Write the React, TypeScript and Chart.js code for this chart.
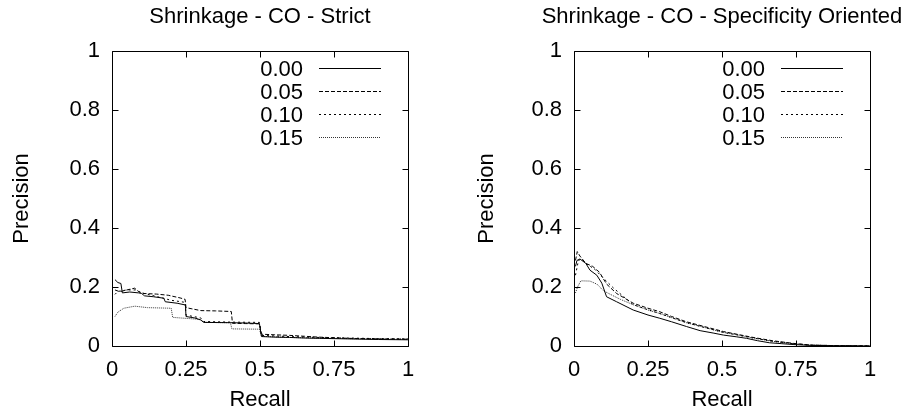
import React, { useEffect, useRef } from 'react';
import { Chart, registerables } from 'chart.js';

Chart.register(...registerables);

// ---------- shared labels ----------
const seriesLabels = ['0.00', '0.05', '0.10', '0.15'];
const xTickValues = [0, 0.25, 0.5, 0.75, 1];
const yTickValues = [0, 0.2, 0.4, 0.6, 0.8, 1];
const titleStrict = 'Shrinkage - CO - Strict';
const titleSpecificity = 'Shrinkage - CO - Specificity Oriented';
const xTitle = 'Recall';
const yTitle = 'Precision';

// ---------- Strict panel ----------
const strictRecall00 = [0.01, 0.02, 0.03, 0.035, 0.06, 0.09, 0.1, 0.11, 0.14, 0.175, 0.18, 0.22, 0.248, 0.25, 0.28, 0.3, 0.31, 0.4, 0.45, 0.498, 0.505, 0.55, 0.6, 0.65, 0.7, 0.8, 0.9, 1.0];
const strictPrec00 = [0.225, 0.215, 0.212, 0.18, 0.183, 0.18, 0.178, 0.17, 0.167, 0.162, 0.15, 0.145, 0.139, 0.1, 0.095, 0.088, 0.08, 0.079, 0.078, 0.076, 0.032, 0.03, 0.029, 0.027, 0.026, 0.024, 0.022, 0.021];

const strictRecall05 = [0.01, 0.026, 0.05, 0.077, 0.09, 0.108, 0.15, 0.19, 0.23, 0.247, 0.25, 0.27, 0.3, 0.35, 0.403, 0.407, 0.45, 0.498, 0.505, 0.55, 0.6, 0.65, 0.7, 0.75, 0.8, 0.9, 1.0];
const strictPrec05 = [0.19, 0.184, 0.19, 0.196, 0.184, 0.178, 0.176, 0.172, 0.163, 0.158, 0.13, 0.126, 0.12, 0.119, 0.117, 0.077, 0.076, 0.075, 0.04, 0.038, 0.036, 0.033, 0.03, 0.028, 0.026, 0.024, 0.023];

const strictRecall10 = [0.01, 0.02, 0.05, 0.08, 0.1, 0.15, 0.2, 0.247, 0.25, 0.3, 0.31, 0.4, 0.498, 0.505, 0.55, 0.6, 0.7, 0.8, 0.9, 1.0];
const strictPrec10 = [0.175, 0.185, 0.19, 0.19, 0.18, 0.168, 0.155, 0.148, 0.105, 0.095, 0.083, 0.081, 0.08, 0.036, 0.034, 0.032, 0.029, 0.027, 0.025, 0.024];

const strictRecall15 = [0.01, 0.02, 0.04, 0.077, 0.12, 0.2, 0.205, 0.3, 0.31, 0.4, 0.405, 0.498, 0.505, 0.55, 0.6, 0.7, 0.8, 0.9, 1.0];
const strictPrec15 = [0.1, 0.115, 0.128, 0.135, 0.13, 0.128, 0.097, 0.09, 0.08, 0.079, 0.058, 0.057, 0.033, 0.031, 0.029, 0.027, 0.025, 0.024, 0.023];

// ---------- Specificity oriented panel ----------
const specRecall00 = [0.005, 0.01, 0.02, 0.04, 0.054, 0.077, 0.094, 0.11, 0.144, 0.2, 0.25, 0.29, 0.33, 0.38, 0.426, 0.47, 0.505, 0.55, 0.583, 0.62, 0.66, 0.7, 0.74, 0.8, 0.9, 1.0];
const specPrec00 = [0.27, 0.29, 0.295, 0.28, 0.257, 0.24, 0.213, 0.167, 0.15, 0.122, 0.105, 0.094, 0.082, 0.066, 0.052, 0.044, 0.037, 0.031, 0.026, 0.018, 0.011, 0.008, 0.005, 0.002, 0.001, 0.0];

const specRecall05 = [0.005, 0.011, 0.02, 0.04, 0.063, 0.086, 0.11, 0.144, 0.2, 0.25, 0.29, 0.33, 0.38, 0.44, 0.505, 0.55, 0.6, 0.67, 0.74, 0.8, 0.9, 1.0];
const specPrec05 = [0.29, 0.32, 0.305, 0.28, 0.27, 0.25, 0.21, 0.178, 0.145, 0.128, 0.116, 0.1, 0.082, 0.066, 0.049, 0.04, 0.03, 0.018, 0.009, 0.003, 0.001, 0.0];

const specRecall10 = [0.005, 0.015, 0.025, 0.04, 0.07, 0.105, 0.135, 0.2, 0.25, 0.29, 0.33, 0.38, 0.44, 0.505, 0.55, 0.6, 0.67, 0.74, 0.8, 0.9, 1.0];
const specPrec10 = [0.24, 0.29, 0.295, 0.28, 0.26, 0.224, 0.195, 0.14, 0.123, 0.11, 0.096, 0.079, 0.063, 0.046, 0.038, 0.028, 0.016, 0.008, 0.003, 0.001, 0.0];

const specRecall15 = [0.005, 0.012, 0.023, 0.054, 0.077, 0.1, 0.123, 0.157, 0.2, 0.25, 0.29, 0.33, 0.38, 0.44, 0.505, 0.55, 0.6, 0.67, 0.74, 0.8, 0.9, 1.0];
const specPrec15 = [0.18, 0.2, 0.221, 0.22, 0.21, 0.187, 0.175, 0.158, 0.14, 0.122, 0.11, 0.096, 0.079, 0.063, 0.046, 0.038, 0.028, 0.016, 0.008, 0.003, 0.001, 0.0];

// ---------- styles ----------
const lineDashes: number[][] = [[], [4, 2], [2, 3], [1, 1]];
const lineColors = ['#000000', '#000000', '#000000', '#333333'];
const FONT = 'Liberation Sans, Arial, Helvetica, sans-serif';

const zip = (xs: number[], ys: number[]) => xs.map((x, i) => ({ x, y: ys[i] }));

const gnuplotFrame = {
  id: 'gnuplotFrame',
  afterDatasetsDraw(chart: any, _args: any, opts: any) {
    const { ctx, chartArea, scales } = chart;
    const { left, right, top, bottom } = chartArea;
    const xs = scales.x;
    const ys = scales.y;
    ctx.save();
    ctx.strokeStyle = '#000';
    ctx.lineWidth = 1;
    ctx.setLineDash([]);
    const L = Math.round(left) + 0.5;
    const R = Math.round(right) + 0.5;
    const T = Math.round(top) + 0.5;
    const B = Math.round(bottom) + 0.5;
    ctx.beginPath();
    ctx.rect(L, T, R - L, B - T);
    const tl = 6;
    xTickValues.forEach((v) => {
      const px = Math.round(xs.getPixelForValue(v)) + 0.5;
      ctx.moveTo(px, B); ctx.lineTo(px, B - tl);
      ctx.moveTo(px, T); ctx.lineTo(px, T + tl);
    });
    yTickValues.forEach((v) => {
      const py = Math.round(ys.getPixelForValue(v)) + 0.5;
      ctx.moveTo(L, py); ctx.lineTo(L + tl, py);
      ctx.moveTo(R, py); ctx.lineTo(R - tl, py);
    });
    ctx.stroke();

    ctx.font = `22px ${FONT}`;
    ctx.fillStyle = '#000';
    // title centred over the plot box
    ctx.textAlign = 'center';
    ctx.textBaseline = 'middle';
    ctx.fillText(opts.title, (left + right) / 2, 17);

    // legend (gnuplot style, top right inside)
    ctx.textAlign = 'right';
    chart.data.datasets.forEach((ds: any, i: number) => {
      const y = Math.round(top + 17 + i * 23) + 0.5;
      const lineEnd = right - 27;
      const lineStart = right - 89;
      ctx.setLineDash([]);
      ctx.fillText(ds.label, lineStart - 16, y + 1);
      ctx.beginPath();
      ctx.strokeStyle = ds.borderColor;
      ctx.setLineDash(ds.borderDash || []);
      ctx.moveTo(lineStart, y);
      ctx.lineTo(lineEnd, y);
      ctx.stroke();
    });
    ctx.restore();
  },
};

const fmt = (v: any) => String(Number(v));

function makeConfig(title: string, series: { x: number[]; y: number[] }[], yAxisWidth: number, rightPad: number, yTitlePad: number) {
  return {
    type: 'line' as const,
    data: {
      datasets: series.map((s, i) => ({
        label: seriesLabels[i],
        data: zip(s.x, s.y),
        borderColor: lineColors[i],
        borderWidth: 1,
        borderDash: lineDashes[i],
        pointRadius: 0,
        tension: 0,
        fill: false,
      })),
    },
    options: {
      responsive: false,
      animation: false as const,
      layout: { padding: { left: 0, right: rightPad, top: 51, bottom: 0 } },
      plugins: {
        legend: { display: false },
        tooltip: { enabled: false },
        title: { display: false },
        gnuplotFrame: { title },
      },
      scales: {
        x: {
          type: 'linear' as const,
          min: 0,
          max: 1,
          afterBuildTicks: (scale: any) => { scale.ticks = xTickValues.map((v) => ({ value: v })); },
          ticks: { color: '#000', font: { family: FONT, size: 22 }, padding: 11, maxRotation: 0, autoSkip: false, callback: fmt },
          grid: { display: false, drawTicks: false },
          border: { display: false },
          title: { display: true, text: xTitle, color: '#000', font: { family: FONT, size: 22 }, padding: { top: 0, bottom: 5 } },
          afterFit: (scale: any) => { scale.height = 72; },
        },
        y: {
          type: 'linear' as const,
          min: 0,
          max: 1,
          afterBuildTicks: (scale: any) => { scale.ticks = yTickValues.map((v) => ({ value: v })); },
          ticks: { color: '#000', font: { family: FONT, size: 22 }, padding: 12, autoSkip: false, callback: fmt },
          grid: { display: false, drawTicks: false },
          border: { display: false },
          title: { display: true, text: yTitle, color: '#000', font: { family: FONT, size: 22 }, padding: { top: yTitlePad, bottom: 0 } },
          afterFit: (scale: any) => { scale.width = yAxisWidth; },
        },
      },
    },
    plugins: [gnuplotFrame],
  };
}

function Panel({ title, series, yAxisWidth, rightPad, yTitlePad }: any) {
  const ref = useRef<HTMLCanvasElement | null>(null);
  useEffect(() => {
    if (!ref.current) return;
    const chart = new Chart(ref.current, makeConfig(title, series, yAxisWidth, rightPad, yTitlePad) as any);
    return () => chart.destroy();
  }, []);
  return <canvas ref={ref} width={460} height={418} style={{ display: 'block', width: 460, height: 418 }} />;
}

export default function App() {
  const strictSeries = [
    { x: strictRecall00, y: strictPrec00 },
    { x: strictRecall05, y: strictPrec05 },
    { x: strictRecall10, y: strictPrec10 },
    { x: strictRecall15, y: strictPrec15 },
  ];
  const specSeries = [
    { x: specRecall00, y: specPrec00 },
    { x: specRecall05, y: specPrec05 },
    { x: specRecall10, y: specPrec10 },
    { x: specRecall15, y: specPrec15 },
  ];
  return (
    <div style={{ position: 'absolute', left: 0, top: 0, width: 920, height: 418, display: 'flex', background: '#fff' }}>
      <Panel title={titleStrict} series={strictSeries} yAxisWidth={112} rightPad={52} yTitlePad={9} />
      <Panel title={titleSpecificity} series={specSeries} yAxisWidth={114} rightPad={50} yTitlePad={14} />
    </div>
  );
}
